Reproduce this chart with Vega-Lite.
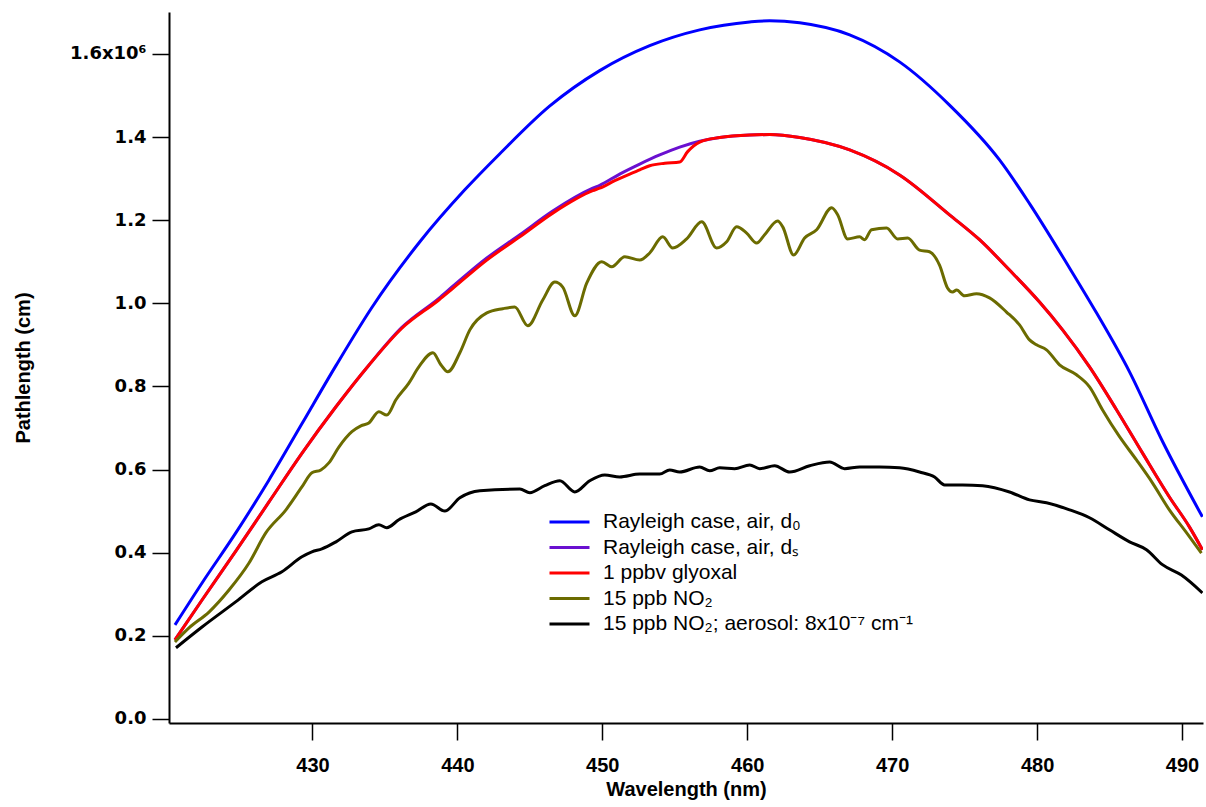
{
  "$schema": "https://vega.github.io/schema/vega-lite/v6.json",
  "width": 1034,
  "height": 711,
  "autosize": {"type": "none"},
  "padding": {"left": 169, "top": 12, "right": 3, "bottom": 84},
  "background": "white",
  "config": {
    "view": {"stroke": null},
    "axis": {
      "domainColor": "black", "domainWidth": 2, "tickColor": "black", "tickWidth": 1.5,
      "tickSize": 17, "grid": false, "labelColor": "black", "titleColor": "black"
    }
  },
  "data": {
    "values": [
      {"s":"d0","x":420.51,"y":0.226},{"s":"d0","x":422.38,"y":0.327},{"s":"d0","x":424.72,"y":0.448},{"s":"d0","x":427.0,"y":0.575},{"s":"d0","x":429.27,"y":0.71},{"s":"d0","x":431.62,"y":0.85},{"s":"d0","x":434.1,"y":0.99},{"s":"d0","x":437.41,"y":1.148},{"s":"d0","x":440.51,"y":1.273},{"s":"d0","x":442.93,"y":1.36},{"s":"d0","x":446.38,"y":1.475},{"s":"d0","x":449.82,"y":1.56},{"s":"d0","x":453.27,"y":1.62},{"s":"d0","x":456.72,"y":1.658},{"s":"d0","x":460.17,"y":1.677},{"s":"d0","x":461.55,"y":1.68},{"s":"d0","x":463.62,"y":1.675},{"s":"d0","x":467.07,"y":1.646},{"s":"d0","x":470.51,"y":1.581},{"s":"d0","x":473.96,"y":1.477},{"s":"d0","x":477.41,"y":1.345},{"s":"d0","x":479.48,"y":1.24},{"s":"d0","x":482.24,"y":1.085},{"s":"d0","x":484.1,"y":0.977},{"s":"d0","x":486.38,"y":0.835},{"s":"d0","x":488.65,"y":0.668},{"s":"d0","x":491.41,"y":0.486},

      {"s":"ds","x":420.51,"y":0.19},{"s":"ds","x":422.38,"y":0.286},{"s":"ds","x":424.72,"y":0.404},{"s":"ds","x":427.0,"y":0.522},{"s":"ds","x":429.27,"y":0.639},{"s":"ds","x":431.62,"y":0.751},{"s":"ds","x":433.89,"y":0.851},{"s":"ds","x":436.17,"y":0.942},{"s":"ds","x":438.72,"y":1.012},{"s":"ds","x":439.69,"y":1.041},{"s":"ds","x":442.03,"y":1.109},{"s":"ds","x":444.31,"y":1.165},{"s":"ds","x":446.58,"y":1.222},{"s":"ds","x":449.34,"y":1.277},{"s":"ds","x":449.82,"y":1.284},{"s":"ds","x":451.2,"y":1.311},{"s":"ds","x":452.58,"y":1.335},{"s":"ds","x":453.96,"y":1.357},{"s":"ds","x":455.34,"y":1.376},{"s":"ds","x":456.72,"y":1.39},{"s":"ds","x":458.1,"y":1.399},{"s":"ds","x":460.17,"y":1.405},{"s":"ds","x":461.55,"y":1.406},{"s":"ds","x":463.62,"y":1.399},{"s":"ds","x":467.07,"y":1.369},{"s":"ds","x":470.51,"y":1.309},{"s":"ds","x":473.96,"y":1.213},{"s":"ds","x":476.03,"y":1.153},{"s":"ds","x":478.1,"y":1.08},{"s":"ds","x":480.17,"y":1.003},{"s":"ds","x":481.76,"y":0.936},{"s":"ds","x":483.62,"y":0.847},{"s":"ds","x":485.48,"y":0.744},{"s":"ds","x":487.27,"y":0.64},{"s":"ds","x":489.13,"y":0.534},{"s":"ds","x":490.51,"y":0.462},{"s":"ds","x":491.41,"y":0.407},

      {"s":"gly","x":420.51,"y":0.19},{"s":"gly","x":422.38,"y":0.286},{"s":"gly","x":424.72,"y":0.404},{"s":"gly","x":427.0,"y":0.522},{"s":"gly","x":429.27,"y":0.639},{"s":"gly","x":431.62,"y":0.751},{"s":"gly","x":433.89,"y":0.851},{"s":"gly","x":436.17,"y":0.94},{"s":"gly","x":438.72,"y":1.008},{"s":"gly","x":439.69,"y":1.036},{"s":"gly","x":442.03,"y":1.104},{"s":"gly","x":444.31,"y":1.16},{"s":"gly","x":446.58,"y":1.217},{"s":"gly","x":449.34,"y":1.271},{"s":"gly","x":449.82,"y":1.277},{"s":"gly","x":450.86,"y":1.295},{"s":"gly","x":451.89,"y":1.311},{"s":"gly","x":452.58,"y":1.321},{"s":"gly","x":453.27,"y":1.331},{"s":"gly","x":454.31,"y":1.337},{"s":"gly","x":455.34,"y":1.34},{"s":"gly","x":455.89,"y":1.365},{"s":"gly","x":456.72,"y":1.388},{"s":"gly","x":458.1,"y":1.399},{"s":"gly","x":460.17,"y":1.405},{"s":"gly","x":461.55,"y":1.406},{"s":"gly","x":463.62,"y":1.399},{"s":"gly","x":467.07,"y":1.369},{"s":"gly","x":470.51,"y":1.309},{"s":"gly","x":473.96,"y":1.213},{"s":"gly","x":476.03,"y":1.153},{"s":"gly","x":478.1,"y":1.08},{"s":"gly","x":480.17,"y":1.003},{"s":"gly","x":481.76,"y":0.936},{"s":"gly","x":483.62,"y":0.847},{"s":"gly","x":485.48,"y":0.744},{"s":"gly","x":487.27,"y":0.64},{"s":"gly","x":489.13,"y":0.534},{"s":"gly","x":490.51,"y":0.462},{"s":"gly","x":491.41,"y":0.407},

      {"s":"no2","x":420.51,"y":0.185},{"s":"no2","x":421.48,"y":0.219},{"s":"no2","x":422.86,"y":0.257},{"s":"no2","x":424.24,"y":0.31},{"s":"no2","x":425.62,"y":0.375},{"s":"no2","x":426.79,"y":0.448},{"s":"no2","x":428.17,"y":0.503},{"s":"no2","x":429.27,"y":0.558},{"s":"no2","x":429.96,"y":0.592},{"s":"no2","x":430.58,"y":0.599},{"s":"no2","x":431.13,"y":0.616},{"s":"no2","x":431.82,"y":0.654},{"s":"no2","x":432.72,"y":0.691},{"s":"no2","x":433.34,"y":0.705},{"s":"no2","x":433.89,"y":0.712},{"s":"no2","x":434.58,"y":0.739},{"s":"no2","x":435.13,"y":0.731},{"s":"no2","x":435.76,"y":0.768},{"s":"no2","x":436.65,"y":0.808},{"s":"no2","x":437.34,"y":0.847},{"s":"no2","x":438.31,"y":0.881},{"s":"no2","x":438.86,"y":0.852},{"s":"no2","x":439.34,"y":0.835},{"s":"no2","x":440.17,"y":0.881},{"s":"no2","x":440.86,"y":0.936},{"s":"no2","x":442.03,"y":0.977},{"s":"no2","x":443.13,"y":0.987},{"s":"no2","x":443.96,"y":0.991},{"s":"no2","x":444.86,"y":0.946},{"s":"no2","x":445.89,"y":1.008},{"s":"no2","x":446.72,"y":1.051},{"s":"no2","x":447.27,"y":1.039},{"s":"no2","x":448.1,"y":0.97},{"s":"no2","x":448.93,"y":1.049},{"s":"no2","x":449.96,"y":1.1},{"s":"no2","x":450.65,"y":1.088},{"s":"no2","x":451.55,"y":1.112},{"s":"no2","x":452.58,"y":1.104},{"s":"no2","x":453.27,"y":1.121},{"s":"no2","x":454.17,"y":1.16},{"s":"no2","x":454.86,"y":1.133},{"s":"no2","x":455.82,"y":1.155},{"s":"no2","x":456.86,"y":1.196},{"s":"no2","x":457.89,"y":1.133},{"s":"no2","x":458.58,"y":1.148},{"s":"no2","x":459.27,"y":1.184},{"s":"no2","x":459.96,"y":1.169},{"s":"no2","x":460.65,"y":1.145},{"s":"no2","x":461.2,"y":1.165},{"s":"no2","x":462.1,"y":1.198},{"s":"no2","x":462.45,"y":1.184},{"s":"no2","x":463.2,"y":1.116},{"s":"no2","x":463.96,"y":1.157},{"s":"no2","x":464.79,"y":1.177},{"s":"no2","x":465.83,"y":1.23},{"s":"no2","x":466.24,"y":1.213},{"s":"no2","x":466.93,"y":1.155},{"s":"no2","x":467.76,"y":1.16},{"s":"no2","x":468.1,"y":1.153},{"s":"no2","x":468.58,"y":1.177},{"s":"no2","x":469.62,"y":1.181},{"s":"no2","x":470.38,"y":1.155},{"s":"no2","x":471.07,"y":1.157},{"s":"no2","x":471.89,"y":1.128},{"s":"no2","x":472.58,"y":1.124},{"s":"no2","x":473.27,"y":1.092},{"s":"no2","x":473.82,"y":1.037},{"s":"no2","x":474.17,"y":1.027},{"s":"no2","x":474.45,"y":1.032},{"s":"no2","x":474.99,"y":1.018},{"s":"no2","x":475.82,"y":1.023},{"s":"no2","x":476.72,"y":1.013},{"s":"no2","x":477.89,"y":0.979},{"s":"no2","x":478.79,"y":0.948},{"s":"no2","x":479.48,"y":0.912},{"s":"no2","x":479.96,"y":0.9},{"s":"no2","x":480.65,"y":0.888},{"s":"no2","x":481.55,"y":0.852},{"s":"no2","x":482.72,"y":0.828},{"s":"no2","x":483.62,"y":0.799},{"s":"no2","x":484.51,"y":0.744},{"s":"no2","x":485.69,"y":0.679},{"s":"no2","x":486.86,"y":0.623},{"s":"no2","x":487.96,"y":0.568},{"s":"no2","x":489.13,"y":0.503},{"s":"no2","x":490.31,"y":0.448},{"s":"no2","x":491.34,"y":0.399},

      {"s":"aer","x":420.58,"y":0.171},{"s":"aer","x":422.38,"y":0.221},{"s":"aer","x":424.72,"y":0.282},{"s":"aer","x":426.51,"y":0.33},{"s":"aer","x":427.89,"y":0.354},{"s":"aer","x":429.27,"y":0.39},{"s":"aer","x":429.96,"y":0.402},{"s":"aer","x":430.65,"y":0.409},{"s":"aer","x":431.62,"y":0.426},{"s":"aer","x":432.72,"y":0.45},{"s":"aer","x":433.89,"y":0.457},{"s":"aer","x":434.58,"y":0.467},{"s":"aer","x":435.13,"y":0.46},{"s":"aer","x":435.96,"y":0.479},{"s":"aer","x":437.13,"y":0.498},{"s":"aer","x":438.17,"y":0.517},{"s":"aer","x":439.13,"y":0.5},{"s":"aer","x":440.17,"y":0.532},{"s":"aer","x":441.55,"y":0.549},{"s":"aer","x":444.31,"y":0.553},{"s":"aer","x":445.0,"y":0.544},{"s":"aer","x":446.03,"y":0.561},{"s":"aer","x":447.07,"y":0.573},{"s":"aer","x":448.1,"y":0.546},{"s":"aer","x":449.13,"y":0.573},{"s":"aer","x":450.17,"y":0.587},{"s":"aer","x":451.2,"y":0.582},{"s":"aer","x":452.58,"y":0.589},{"s":"aer","x":453.96,"y":0.589},{"s":"aer","x":454.65,"y":0.599},{"s":"aer","x":455.34,"y":0.594},{"s":"aer","x":456.72,"y":0.606},{"s":"aer","x":457.41,"y":0.597},{"s":"aer","x":458.1,"y":0.604},{"s":"aer","x":459.13,"y":0.602},{"s":"aer","x":460.17,"y":0.611},{"s":"aer","x":460.86,"y":0.602},{"s":"aer","x":461.89,"y":0.609},{"s":"aer","x":462.93,"y":0.594},{"s":"aer","x":464.31,"y":0.609},{"s":"aer","x":465.69,"y":0.618},{"s":"aer","x":466.72,"y":0.602},{"s":"aer","x":467.76,"y":0.606},{"s":"aer","x":469.13,"y":0.606},{"s":"aer","x":470.51,"y":0.604},{"s":"aer","x":471.89,"y":0.594},{"s":"aer","x":472.93,"y":0.582},{"s":"aer","x":473.62,"y":0.563},{"s":"aer","x":474.86,"y":0.563},{"s":"aer","x":476.24,"y":0.561},{"s":"aer","x":478.1,"y":0.546},{"s":"aer","x":479.48,"y":0.527},{"s":"aer","x":480.65,"y":0.52},{"s":"aer","x":482.24,"y":0.503},{"s":"aer","x":483.62,"y":0.484},{"s":"aer","x":484.99,"y":0.455},{"s":"aer","x":486.38,"y":0.426},{"s":"aer","x":487.55,"y":0.407},{"s":"aer","x":488.65,"y":0.371},{"s":"aer","x":489.96,"y":0.346},{"s":"aer","x":491.41,"y":0.303}
    ]
  },
  "mark": {"type": "line", "strokeWidth": 3, "clip": true, "interpolate": "monotone"},
  "encoding": {
    "x": {
      "field": "x", "type": "quantitative",
      "scale": {"domain": [420.1, 491.45], "nice": false, "zero": false},
      "axis": {
        "values": [430, 440, 450, 460, 470, 480, 490],
        "format": "d",
        "labelFont": "Liberation Sans", "labelFontSize": 20, "labelFontWeight": "bold", "labelPadding": 15,
        "title": "Wavelength (nm)", "titleFont": "Liberation Sans", "titleFontSize": 20, "titleFontWeight": "bold", "titlePadding": 4
      }
    },
    "y": {
      "field": "y", "type": "quantitative",
      "scale": {"domain": [-0.01, 1.701], "nice": false, "zero": false},
      "axis": {
        "values": [0, 0.2, 0.4, 0.6, 0.8, 1.0, 1.2, 1.4, 1.6],
        "labelExpr": "datum.value > 1.55 ? '1.6x10⁶' : format(datum.value, '.1f')",
        "labelFont": "DejaVu Sans", "labelFontSize": 18, "labelFontWeight": "bold", "labelPadding": 6,
        "title": "Pathlength (cm)", "titleFont": "Liberation Sans", "titleFontSize": 20, "titleFontWeight": "bold", "titlePadding": 36
      }
    },
    "color": {
      "field": "s", "type": "nominal",
      "scale": {"domain": ["d0", "ds", "gly", "no2", "aer"], "range": ["#0000FF", "#6A10D0", "#FF0000", "#6B6B00", "#000000"]},
      "legend": {
        "title": null, "orient": "none", "legendX": 379, "legendY": 500,
        "padding": 0, "symbolType": "stroke", "symbolSize": 1600, "symbolStrokeWidth": 3,
        "clipHeight": 20, "rowPadding": 4.5, "labelOffset": 12,
        "labelFont": "Liberation Sans", "labelFontSize": 21, "labelColor": "black", "labelLimit": 500,
        "labelExpr": "datum.label == 'd0' ? 'Rayleigh case, air, d₀' : datum.label == 'ds' ? 'Rayleigh case, air, dₛ' : datum.label == 'gly' ? '1 ppbv glyoxal' : datum.label == 'no2' ? '15 ppb NO₂' : '15 ppb NO₂; aerosol: 8x10⁻⁷ cm⁻¹'"
      }
    }
  }
}
